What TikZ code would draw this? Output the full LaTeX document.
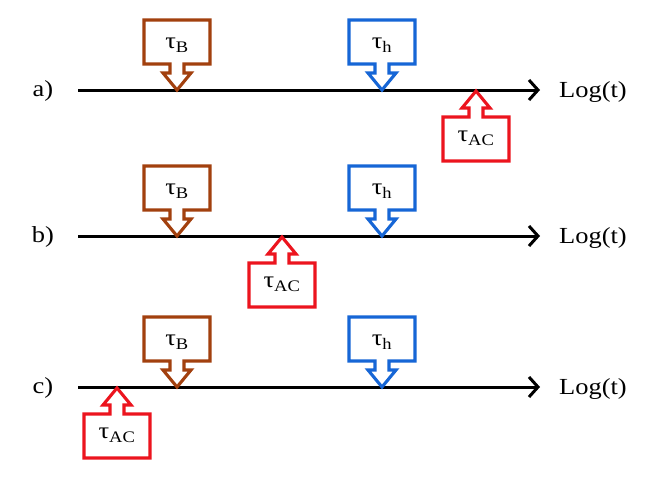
\documentclass[tikz,border=0pt]{standalone}
\usepackage{fontspec}
\setmainfont[FakeStretch=1.15]{Liberation Serif}
\usetikzlibrary{arrows.meta,calc}

\definecolor{cbrown}{RGB}{162,64,14}
\definecolor{cblue}{RGB}{22,102,214}
\definecolor{cred}{RGB}{236,20,30}

\tikzset{
  axisline/.style={line width=3pt, -{Straight Barb[length=9pt,width=20pt]}},
  callout/.style={line width=3.1pt, line join=miter, fill=white},
  tlabel/.style={font=\fontsize{23}{23}\selectfont, inner sep=0pt},
  rowlabel/.style={font=\fontsize{23}{23}\selectfont, inner sep=0pt},
}

% callout above the axis, pointing down to the tip #2
\newcommand{\callDown}[4]{%
  \draw[callout,draw=#1] (#2) -- ++(-14,-17) -- ++(7,0) -- ++(0,-9) -- ++(-26,0)
    -- ++(0,-44) -- ++(66,0) -- ++(0,44) -- ++(-26,0) -- ++(0,9) -- ++(7,0) -- cycle;
  \node[tlabel] (#3) at ($(#2)+(0,-45)$) {#4};
}
% callout below the axis, pointing up to the tip #2
\newcommand{\callUp}[4]{%
  \draw[callout,draw=#1] (#2) -- ++(-14,17) -- ++(7,0) -- ++(0,9) -- ++(-26,0)
    -- ++(0,44) -- ++(66,0) -- ++(0,-44) -- ++(-26,0) -- ++(0,-9) -- ++(7,0) -- cycle;
  \node[tlabel] (#3) at ($(#2)+(0,47)$) {#4};
}

\begin{document}
\begin{tikzpicture}[x=1pt,y=-1pt]
\useasboundingbox[fill=white] (0,0) rectangle (645,490);

% ---- row a ----
\coordinate (a0) at (78,90);
\coordinate (a1) at (540,90);
\node[rowlabel] (la) at (43,91) {a)};
\node[rowlabel] (ta) at (593,92) {Log(t)};
\draw[axisline] (a0) -- (a1);
\coordinate (aB) at (177,90);
\coordinate (ah) at (382,90);
\coordinate (aAC) at (476,91);
\callDown{cbrown}{aB}{nBa}{τ\textsubscript{B}}
\callDown{cblue}{ah}{nha}{τ\textsubscript{h}}
\callUp{cred}{aAC}{nACa}{τ\textsubscript{AC}}

% ---- row b ----
\coordinate (b0) at (78,236);
\coordinate (b1) at (540,236);
\node[rowlabel] (lb) at (43,237) {b)};
\node[rowlabel] (tb) at (593,238) {Log(t)};
\draw[axisline] (b0) -- (b1);
\coordinate (bB) at (177,236);
\coordinate (bh) at (382,236);
\coordinate (bAC) at (282,237);
\callDown{cbrown}{bB}{nBb}{τ\textsubscript{B}}
\callDown{cblue}{bh}{nhb}{τ\textsubscript{h}}
\callUp{cred}{bAC}{nACb}{τ\textsubscript{AC}}

% ---- row c ----
\coordinate (c0) at (78,387);
\coordinate (c1) at (540,387);
\node[rowlabel] (lc) at (43,388) {c)};
\node[rowlabel] (tc) at (593,389) {Log(t)};
\draw[axisline] (c0) -- (c1);
\coordinate (cB) at (177,387);
\coordinate (ch) at (382,387);
\coordinate (cAC) at (117,388);
\callDown{cbrown}{cB}{nBc}{τ\textsubscript{B}}
\callDown{cblue}{ch}{nhc}{τ\textsubscript{h}}
\callUp{cred}{cAC}{nACc}{τ\textsubscript{AC}}
\end{tikzpicture}
\end{document}
